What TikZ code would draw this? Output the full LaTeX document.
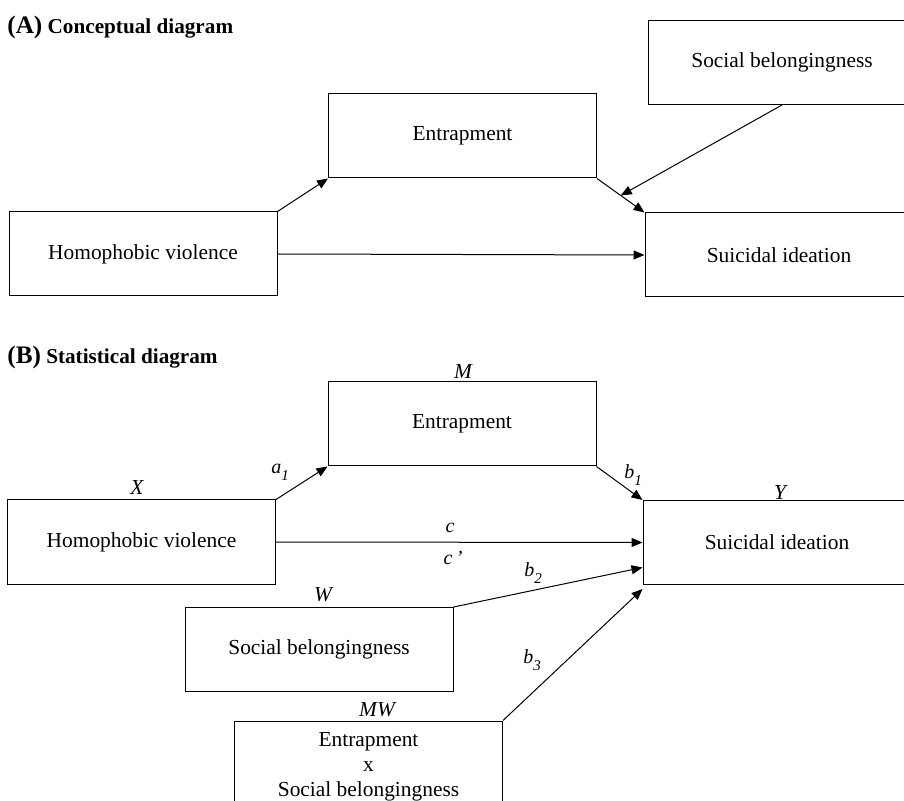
\documentclass[tikz,border=0pt]{standalone}
\usepackage{fontspec}
\setmainfont{Liberation Serif}
\usetikzlibrary{arrows.meta,calc,positioning}
\newcommand{\pathlab}[2]{\textit{#1}\raisebox{-0.8ex}{\fontsize{7.5}{9}\selectfont\textit{#2}}}

\begin{document}
\begin{tikzpicture}[x=0.5pt, y=-0.5pt,
    box/.style={draw, line width=0.5pt, minimum width=134pt, minimum height=42pt, inner sep=0pt, align=center, font=\fontsize{10.7}{12.5}\selectfont},
    var/.style={inner sep=0pt, font=\fontsize{10.7}{12.5}\selectfont\itshape},
    path/.style={line width=0.5pt, -{Triangle[length=5.5pt, width=4.5pt]}},
    head/.style={anchor=base west, inner sep=0pt, font=\bfseries\fontsize{10.6}{12}\selectfont}]

        \clip (0,0) rectangle (904,801);

        \node[head] (headA) at (7,34) {{\fontsize{12.6}{14}\selectfont (A)} Conceptual diagram};
        \node[box] (XA) at (143,254) {Homophobic violence};
        \node[box] (MA) at (462.5,136) {Entrapment};
        \node[box] (WA) at (782,62.5) {Social belongingness};
        \node[box] (YA) at (779,255) {Suicidal ideation};

        \coordinate (midA) at ($(MA.south east)!0.5!(YA.north west)$);
        \draw[path] (XA.north east) -- (MA.south west);
        \draw[path] (MA.south east) -- (YA.north west);
        \draw[path] (WA.south) -- (midA);
        \draw[path] (XA.east) -- (YA.west);

        \node[head] (headB) at (7,364) {{\fontsize{12.6}{14}\selectfont (B)} Statistical diagram};
        \node[box] (X) at (141.5,542) {Homophobic violence};
        \node[box] (M) at (462,424) {Entrapment};
        \node[box] (Y) at (777,542.5) {Suicidal ideation};
        \node[box] (W) at (319,649.5) {Social belongingness};
        \node[box, minimum height=46pt] (MW) at (368.5,767) {Entrapment\\x\\Social belongingness};

        \node[var] (lM) at (463,371) {M};
        \node[var] (lX) at (137,487) {X};
        \node[var] (lY) at (780,492) {Y};
        \node[var] (lW) at (323,595) {W};
        \node[var] (lMW) at (377,710) {MW};

        \coordinate (Yb2) at ($(Y.west)+(0,25)$);
        \coordinate (Yb3) at ($(Y.south west)+(0,4)$);
        \draw[path] (X.north east) -- (M.south west);
        \draw[path] (M.south east) -- (Y.north west);
        \draw[path] (X.east) -- (Y.west);
        \draw[path] (W.north east) -- (Yb2);
        \draw[path] (MW.north east) -- (Yb3);

        \node[inner sep=0pt] (la1) at (280,472) {\pathlab{a}{1}};
        \node[inner sep=0pt] (lb1) at (633,475) {\pathlab{b}{1}};
        \node[inner sep=0pt] (lc) at (450,528) {\textit{c}};
        \node[inner sep=0pt] (lcp) at (453,558) {\textit{c\,’}};
        \node[inner sep=0pt] (lb2) at (533,573) {\pathlab{b}{2}};
        \node[inner sep=0pt] (lb3) at (532,660) {\pathlab{b}{3}};
    \end{tikzpicture}
\end{document}
